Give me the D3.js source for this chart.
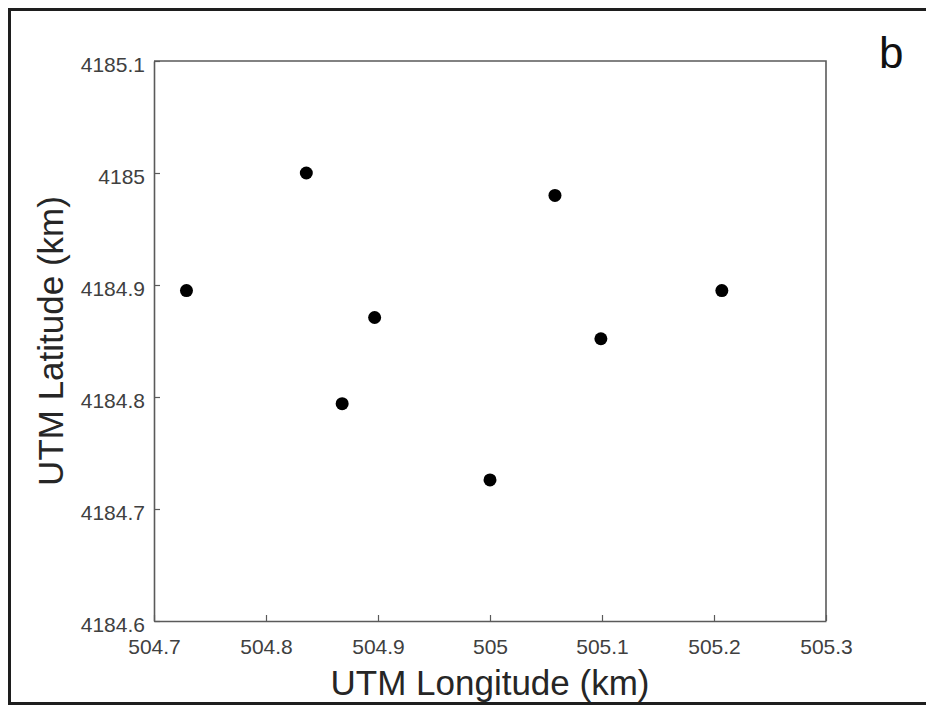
<!DOCTYPE html>
<html>
<head>
<meta charset="utf-8">
<script src="https://cdn.jsdelivr.net/npm/d3@7"></script>
<style>
  html, body { margin: 0; padding: 0; background: #fff; }
  svg { display: block; font-family: "Liberation Sans", Arial, sans-serif; }
</style>
</head>
<body>
<svg id="chart" width="926" height="705"></svg>
<script>
// Station positions in UTM coordinates (km)
const longitudes = [504.729, 504.836, 504.868, 504.897, 505.000, 505.058, 505.099, 505.207];
const latitudes  = [4184.895, 4185.000, 4184.794, 4184.871, 4184.726, 4184.980, 4184.852, 4184.895];

const xTicks = [504.7, 504.8, 504.9, 505, 505.1, 505.2, 505.3];
const yTicks = [4184.6, 4184.7, 4184.8, 4184.9, 4185, 4185.1];

const xLabel = "UTM Longitude (km)";
const yLabel = "UTM Latitude (km)";
const panelLetter = "b";

const svg = d3.select("#chart");
const plot = { left: 154, top: 61, right: 826, bottom: 621 };

// Outer panel frame
svg.append("rect")
  .attr("x", 9.5).attr("y", 9.5)
  .attr("width", 940).attr("height", 694)
  .attr("fill", "none").attr("stroke", "#1e1e1e").attr("stroke-width", 3);

const x = d3.scaleLinear().domain([504.7, 505.3]).range([plot.left, plot.right]);
const y = d3.scaleLinear().domain([4184.6, 4185.1]).range([plot.bottom, plot.top]);

const fmt = d => String(+d.toFixed(1));

// Bottom axis (inward ticks)
const gx = svg.append("g")
  .attr("transform", `translate(0,${plot.bottom})`)
  .call(d3.axisBottom(x).tickValues(xTicks).tickFormat(fmt).tickSizeInner(-6).tickSizeOuter(0).tickPadding(18));

// Left axis (inward ticks)
const gy = svg.append("g")
  .attr("transform", `translate(${plot.left},0)`)
  .call(d3.axisLeft(y).tickValues(yTicks).tickFormat(fmt).tickSizeInner(-6).tickSizeOuter(0).tickPadding(9));

[gx, gy].forEach(g => {
  g.select(".domain").attr("stroke", "#5a5a5a").attr("stroke-width", 1.6);
  g.selectAll(".tick line").attr("stroke", "#5a5a5a").attr("stroke-width", 1.2);
  g.selectAll(".tick text")
    .attr("fill", "#404040")
    .attr("font-size", 21)
    .attr("font-family", "'Liberation Sans', Arial, sans-serif");
});
gy.selectAll(".tick text").attr("dy", "0.5em");

// Top and right edges of the axes box
svg.append("path")
  .attr("d", `M${plot.left},${plot.top}H${plot.right}V${plot.bottom}`)
  .attr("fill", "none").attr("stroke", "#5a5a5a").attr("stroke-width", 1.6);

// Station markers
svg.append("g")
  .selectAll("circle")
  .data(longitudes.map((lon, i) => ({ lon, lat: latitudes[i] })))
  .join("circle")
  .attr("cx", d => x(d.lon))
  .attr("cy", d => y(d.lat))
  .attr("r", 6.5)
  .attr("fill", "#000");

// Axis titles
svg.append("text")
  .attr("x", (plot.left + plot.right) / 2)
  .attr("y", 695)
  .attr("text-anchor", "middle")
  .attr("font-size", 35)
  .attr("fill", "#262626")
  .text(xLabel);

svg.append("text")
  .attr("transform", `translate(63,${(plot.top + plot.bottom) / 2}) rotate(-90)`)
  .attr("text-anchor", "middle")
  .attr("font-size", 35)
  .attr("fill", "#262626")
  .text(yLabel);

// Panel letter
svg.append("text")
  .attr("x", 879)
  .attr("y", 68)
  .attr("font-size", 44)
  .attr("fill", "#111")
  .text(panelLetter);
</script>
</body>
</html>
